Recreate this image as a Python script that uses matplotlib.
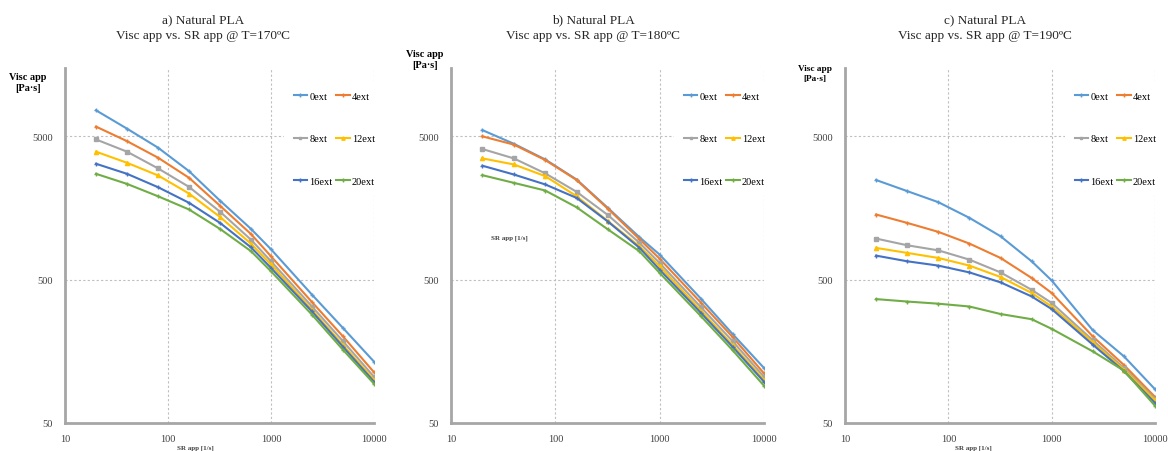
import numpy as np
import matplotlib
matplotlib.use('Agg')
from matplotlib import pyplot as plt
from matplotlib.ticker import FixedLocator, NullLocator

plt.rcParams['font.family'] = ['Liberation Serif', 'DejaVu Serif']

# Shear rate points [1/s]
sr_app = [20, 40, 80, 160, 320, 640, 1000, 2500, 5000, 10000]

series_labels = ['0ext', '4ext', '8ext', '12ext', '16ext', '20ext']

# Apparent viscosity [Pa·s], one list per series (0, 4, 8, 12, 16, 20 ext)
visc_170 = [
    [7600, 5660, 4170, 2860, 1780, 1130, 815, 393, 230, 134],
    [5850, 4630, 3550, 2570, 1640, 1040, 728, 349, 201, 113],
    [4760, 3910, 2990, 2220, 1490, 950, 672, 325, 186, 105],
    [3910, 3270, 2670, 1995, 1370, 890, 639, 308, 175, 100],
    [3220, 2740, 2210, 1720, 1245, 840, 604, 300, 170, 97],
    [2740, 2330, 1910, 1545, 1130, 790, 572, 285, 162, 94],
]
visc_180 = [
    [5530, 4440, 3450, 2500, 1580, 990, 748, 367, 209, 121],
    [5000, 4380, 3420, 2480, 1560, 960, 700, 344, 199, 111],
    [4080, 3510, 2760, 2050, 1410, 904, 653, 320, 186, 105],
    [3510, 3185, 2640, 1910, 1280, 855, 620, 303, 175, 100],
    [3120, 2710, 2310, 1860, 1270, 835, 587, 292, 170, 97],
    [2680, 2370, 2095, 1600, 1120, 789, 557, 277, 161, 91],
]
visc_190 = [
    [2480, 2075, 1737, 1350, 1005, 672, 494, 222, 146, 86],
    [1425, 1245, 1078, 893, 709, 514, 404, 201, 127, 76],
    [968, 869, 801, 690, 562, 425, 344, 189, 121, 74],
    [833, 769, 709, 627, 522, 404, 325, 183, 118, 72],
    [736, 672, 627, 562, 479, 382, 312, 176, 115, 69],
    [366, 352, 340, 325, 288, 265, 227, 158, 116, 66],
]

panel_titles = ['a) Natural PLA\nVisc app vs. SR app @ T=170ºC',
                'b) Natural PLA\nVisc app vs. SR app @ T=180ºC',
                'c) Natural PLA\nVisc app vs. SR app @ T=190ºC']

colors = ['#5B9BD5', '#ED7D31', '#A5A5A5', '#FFC000', '#4472C4', '#70AD47']
markers = ['+', '+', 's', '^', '+', '+']
msizes = [3, 3, 2.5, 3, 3, 3]

W, H = 1168, 452
fig = plt.figure(figsize=(W / 100, H / 100), dpi=100)

# axes boxes in pixels: left, right
ax_px = [(65, 374), (451, 764), (845, 1155)]
top_px, bot_px = 69, 424
title_x = [203, 593, 985]
ylab_pos = [(28, 83, 7.4), (425, 60, 7.4), (815, 74, 6.7)]
xlab_pos = [(195, 448), (509, 238), (973, 448)]

all_data = [visc_170, visc_180, visc_190]

for k in range(3):
    l, r = ax_px[k]
    ax = fig.add_axes([l / W, (H - bot_px) / H, (r - l) / W, (bot_px - top_px) / H])
    ax.set_xscale('log')
    ax.set_yscale('log')
    ax.set_xlim(10, 10000)
    ax.set_ylim(50, 15000)

    lines = []
    for i, vals in enumerate(all_data[k]):
        ln, = ax.plot(sr_app, vals, color=colors[i], lw=1.5, marker=markers[i],
                      ms=msizes[i], mew=1.0, label=series_labels[i], zorder=3)
        lines.append(ln)

    ax.xaxis.set_major_locator(FixedLocator([10, 100, 1000, 10000]))
    ax.xaxis.set_minor_locator(NullLocator())
    ax.set_xticklabels(['10', '100', '1000', '10000'])
    ax.yaxis.set_major_locator(FixedLocator([50, 500, 5000]))
    ax.yaxis.set_minor_locator(NullLocator())
    ax.set_yticklabels(['50', '500', '5000'])
    ax.tick_params(length=0, labelsize=7.5, colors='#404040')
    ax.tick_params(axis='x', pad=8)
    ax.tick_params(axis='y', pad=9)

    ax.grid(True, which='major', linestyle=(0, (2, 2)), color='#BFBFBF', lw=0.8, zorder=0)
    for s in ['top', 'right']:
        ax.spines[s].set_visible(False)
    for s in ['left', 'bottom']:
        ax.spines[s].set_color('#A6A6A6')
        ax.spines[s].set_linewidth(2)

    # legend laid out row-wise like Excel: (0,4), (8,12), (16,20)
    order = [0, 2, 4, 1, 3, 5]
    leg = ax.legend([lines[j] for j in order], [series_labels[j] for j in order],
                    ncol=2, loc='upper right', bbox_to_anchor=(1.05, 0.975),
                    fontsize=7.5, labelspacing=3.2, handlelength=1.3,
                    handletextpad=0.2, columnspacing=0.35, borderpad=0.9,
                    frameon=True, fancybox=False, markerscale=0.8)
    leg.get_frame().set_facecolor('white')
    leg.get_frame().set_edgecolor('none')
    leg.get_frame().set_alpha(1)
    leg.set_zorder(5)

    fig.text(title_x[k] / W, 1 - 14 / H, panel_titles[k], ha='center', va='top',
             fontsize=9.5, color='#262626', linespacing=1.45)
    yx, yy, yfs = ylab_pos[k]
    fig.text(yx / W, 1 - yy / H, 'Visc app\n[Pa·s]', ha='center', va='center',
             fontsize=yfs, fontweight='bold', linespacing=1.2)
    xx, xy = xlab_pos[k]
    fig.text(xx / W, 1 - xy / H, 'SR app [1/s]', ha='center', va='center',
             fontsize=5, fontweight='bold', color='#404040')

plt.savefig('out.png', dpi=100)
